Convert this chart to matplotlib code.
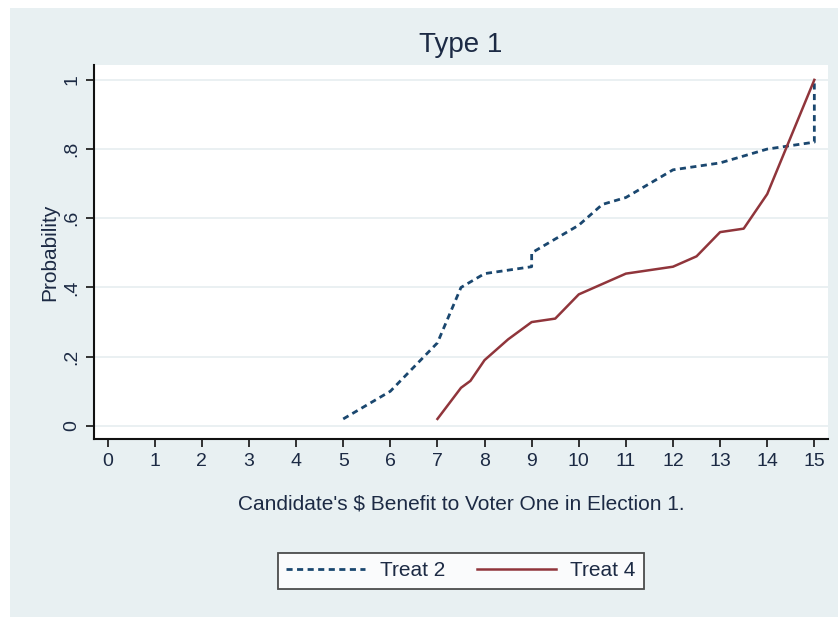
import matplotlib
matplotlib.use("Agg")
import matplotlib.pyplot as plt
from matplotlib.patches import Rectangle

plt.rcParams['font.family'] = ['Liberation Sans', 'DejaVu Sans']

# cumulative probability by candidate benefit
treat2_x = [5, 6, 7, 7.5, 8, 9, 9, 10, 10.5, 11, 12, 13, 13.5, 14, 15, 15]
treat2_y = [0.02, 0.10, 0.24, 0.40, 0.44, 0.46, 0.50, 0.58, 0.64, 0.66,
            0.74, 0.76, 0.78, 0.80, 0.82, 1.00]
treat4_x = [7, 7.5, 7.7, 8, 8.5, 9, 9.5, 10, 10.5, 11, 12, 12.5, 13, 13.5, 14, 15]
treat4_y = [0.02, 0.11, 0.13, 0.19, 0.25, 0.30, 0.31, 0.38, 0.41, 0.44,
            0.46, 0.49, 0.56, 0.57, 0.67, 1.00]

x_ticks = list(range(0, 16))
y_ticks = [0, 0.2, 0.4, 0.6, 0.8, 1.0]
y_labels = ['0', '.2', '.4', '.6', '.8', '1']

NAVY = '#1a476f'
MAROON = '#90353b'
BG = '#e8f0f2'
TEXT = '#1c2a44'

W, H = 838, 617
fig = plt.figure(figsize=(W / 100, H / 100), dpi=100)
fig.patch.set_facecolor('white')
# graph region
fig.add_artist(Rectangle((10 / W, 0), 1 - 10 / W, 1 - 8 / H,
                         transform=fig.transFigure, facecolor=BG,
                         edgecolor='none', zorder=-10))

ax = fig.add_axes([94 / W, 1 - 439 / H, (828 - 94) / W, (439 - 65) / H])
ax.set_facecolor('white')

ax.plot(treat2_x, treat2_y, color=NAVY, lw=2.0, linestyle=(0, (2.2, 1.6)),
        label='Treat 2')
ax.plot(treat4_x, treat4_y, color=MAROON, lw=1.8, label='Treat 4')

ax.set_xlim(-0.29, 15.29)
ax.set_ylim(-0.038, 1.043)
ax.set_xticks(x_ticks)
ax.set_yticks(y_ticks)
ax.set_yticklabels(y_labels, rotation=90, va='center')
ax.tick_params(axis='both', direction='out', length=6, width=1.3,
               labelsize=14, labelcolor=TEXT, color='#222222', pad=4)
ax.grid(axis='y', color='#e6eef0', lw=1.2)
ax.set_axisbelow(True)

for side in ('top', 'right'):
    ax.spines[side].set_visible(False)
for side in ('left', 'bottom'):
    ax.spines[side].set_linewidth(1.5)
    ax.spines[side].set_color('#111111')

ax.set_title('Type 1', fontsize=20, color=TEXT, pad=9)
ax.set_xlabel("Candidate's $ Benefit to Voter One in Election 1.",
              fontsize=15, color=TEXT, labelpad=18)
ax.set_ylabel('Probability', fontsize=15, color=TEXT, labelpad=3)

leg = fig.legend(loc='center', bbox_to_anchor=(461 / W, 1 - 571 / H), ncol=2,
                 fontsize=15, frameon=True, fancybox=False, handlelength=3.8,
                 columnspacing=1.5, borderpad=0.4, handletextpad=0.7)
leg.get_frame().set_edgecolor('#222222')
leg.get_frame().set_linewidth(1.3)
for t in leg.get_texts():
    t.set_color(TEXT)

fig.savefig('out.png', dpi=100)
